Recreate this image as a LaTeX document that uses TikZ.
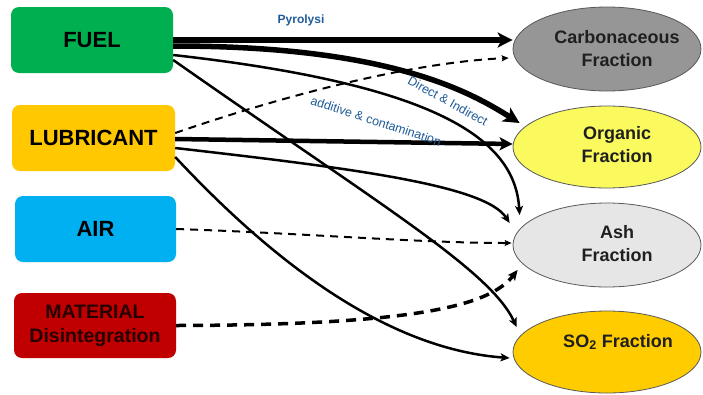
\documentclass[tikz,border=0pt]{standalone}
\usepackage{fontspec}
\setmainfont{Liberation Sans}
\usetikzlibrary{shapes.geometric,arrows.meta,calc}
\definecolor{fuelc}{HTML}{00B050}
\definecolor{lubc}{HTML}{FFC800}
\definecolor{airc}{HTML}{00B0F0}
\definecolor{matc}{HTML}{C00000}
\definecolor{carbc}{HTML}{969696}
\definecolor{orgc}{HTML}{FAFA5E}
\definecolor{ashc}{HTML}{E6E6E6}
\definecolor{soc}{HTML}{FFCC00}
\definecolor{labc}{HTML}{1F5C99}
\begin{document}
\begin{tikzpicture}[x=1pt,y=-1pt,
  src/.style={rectangle, rounded corners=8pt, minimum width=162pt, minimum height=66pt,
    inner sep=0pt, font=\fontsize{22}{26}\selectfont\bfseries, text=black},
  frac/.style={ellipse, draw=black!65, line width=0.8pt, minimum width=188pt,
    minimum height=84pt, inner sep=0pt},
  ftext/.style={font=\fontsize{18}{23}\selectfont\bfseries, align=center, text=black!88},
  lab/.style={text=labc, font=\fontsize{12.5}{14}\selectfont, inner sep=0pt},
  bigarrow/.style={line width=6pt, -{Stealth[length=15pt,width=15pt,inset=4pt]}},
  midarrow/.style={line width=4.5pt, -{Stealth[length=13pt,width=13pt,inset=3pt]}},
  thinarrow/.style={line width=2.5pt, -{Stealth[length=9pt,width=8pt,inset=2pt]}},
  dasharrow/.style={line width=2pt, dash pattern=on 8pt off 6pt, -{Stealth[length=7pt,width=6pt,inset=1.5pt]}},
  thickdash/.style={line width=3.5pt, dash pattern=on 10pt off 7pt, -{Stealth[length=10pt,width=9pt,inset=2pt]}}
]
\useasboundingbox (0,0) rectangle (703,394);
\fill[white] (0,0) rectangle (703,394);

% sources
\node[src, fill=fuelc] (fuel) at (92,40) {FUEL};
\node[src, fill=lubc, minimum width=163pt] (lub) at (93.5,138) {LUBRICANT};
\node[src, fill=airc, minimum width=161pt] (air) at (95.5,229) {AIR};
\node[src, fill=matc, align=center, minimum height=65pt,
  font=\fontsize{19.5}{24}\selectfont\bfseries, text=black!85!red] (mat) at (95,325.5) {MATERIAL\\Disintegration};

% fractions
\node[frac, fill=carbc] (carb) at (607,49) {};
\node[frac, fill=orgc, minimum height=82pt] (org) at (607,147) {};
\node[frac, fill=ashc] (ash) at (607,245) {};
\node[frac, fill=soc, minimum height=82pt] (so) at (607,352) {};
\node[ftext] (carbt) at (617,48.5) {Carbonaceous\\Fraction};
\node[ftext] (orgt) at (617,145) {Organic\\Fraction};
\node[ftext] (asht) at (617,244) {Ash\\Fraction};
\node[ftext] (sot) at (618,342) {SO$_{\mathbf 2}$ Fraction};

% connectors
\draw[bigarrow] (fuel.east) -- (fuel.east -| carb.west);
\draw[line width=5.5pt, -{Stealth[length=16pt,width=16pt,inset=4pt]}]
  ([yshift=-6pt]fuel.east) .. controls (390,46) and (470,92) .. ($(org.west)+(7,-24)$);
\draw[thinarrow] ([yshift=-15pt]fuel.east) .. controls (440,85) and (515,140) .. ($(ash.west)+(7,-30)$);
\draw[thinarrow] ([yshift=-20pt]fuel.east) .. controls (380,205) and (490,270) .. ($(so.west)+(4,-25)$);

\draw[dasharrow] ([yshift=5pt]lub.east) .. controls (300,90) and (420,62) .. ($(carb.west)+(-4,9)$);
\draw[midarrow] ([yshift=-1pt]lub.east) -- ($(org.west)+(0,-3)$);
\draw[thinarrow] ([yshift=-10pt]lub.east) .. controls (350,168) and (485,185) .. ($(ash.west)+(-3,-22)$);
\draw[thinarrow] ([yshift=-19pt]lub.east) .. controls (290,280) and (400,350) .. ($(so.west)+(-3,6)$);

\draw[dasharrow] (air.east) .. controls (300,233) and (420,243) .. ($(ash.west)+(-1,-2)$);
\draw[thickdash] (mat.east) .. controls (420,325) and (490,305) .. ($(ash.west)+(5,25)$);

% labels
\node[lab, font=\fontsize{12}{14}\selectfont\bfseries] (pyr) at (301,20) {Pyrolysi};
\node[lab, rotate=-29] (dlab) at (448,101) {Direct \& Indirect};
\node[lab, rotate=-18] (alab) at (376,121) {additive \& contamination};
\end{tikzpicture}
\end{document}
